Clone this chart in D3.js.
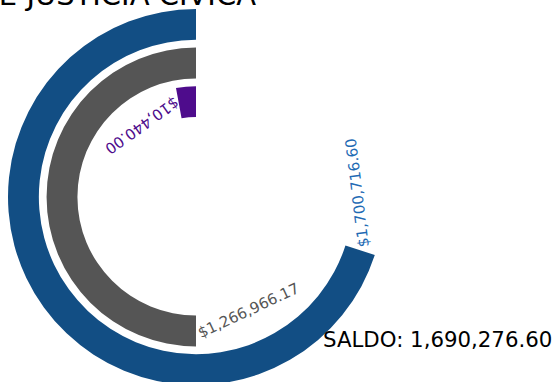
<!DOCTYPE html>
<html lang="es">
<head>
<meta charset="utf-8">
<script src="https://cdn.jsdelivr.net/npm/d3@7"></script>
<style>
  html, body { margin: 0; padding: 0; background: #fff; }
  svg { display: block; }
  text { font-family: "DejaVu Sans", sans-serif; }
</style>
</head>
<body>
<svg id="chart" width="555" height="382"></svg>
<script>
// Datos del tablero
const titulo = "JUZGADO DE JUSTICIA CÍVICA";
const conceptos = ["Ingresos", "Recaudado", "Egresos"];
const montos = [1700716.60, 1266966.17, 10440.00];
const ingresos = montos[0];
const egresos = montos[2];

// Estilos
const colores = ["#124e84", "#555555", "#4e0c8c"];
const coloresTexto = ["#1f6bb4", "#555555", "#4e0c8c"];

const W = 555, H = 382;
const cx = 196, cy = 197;
const svg = d3.select("#chart");

const fmt = d3.format(",.2f");

// Escala angular (grados, sentido antihorario desde las 12)
const ordenados = montos.slice().sort(d3.ascending);
const angulo = d3.scaleLinear()
  .domain([0, ...ordenados])
  .range([0, 10.4, 180, 252]);

// Escala radial: un anillo por concepto, el primero por fuera
const radio = d3.scaleBand()
  .domain(conceptos.slice().reverse())
  .range([80, 188])
  .paddingInner(0.2)
  .paddingOuter(0);

const arco = d3.arc();
const rad = Math.PI / 180;

const g = svg.append("g").attr("transform", `translate(${cx},${cy})`);

const datos = conceptos.map((c, i) => ({
  concepto: c,
  monto: montos[i],
  color: colores[i],
  colorTexto: coloresTexto[i]
}));

g.selectAll("path.anillo")
  .data(datos)
  .join("path")
  .attr("class", "anillo")
  .attr("fill", d => d.color)
  .attr("d", d => arco({
    innerRadius: radio(d.concepto),
    outerRadius: radio(d.concepto) + radio.bandwidth(),
    startAngle: 0,
    endAngle: -angulo(d.monto) * rad
  }));

// Etiquetas al final de cada anillo
g.selectAll("text.valor")
  .data(datos)
  .join("text")
  .attr("class", "valor")
  .attr("fill", d => d.colorTexto)
  .attr("font-size", 15)
  .attr("transform", d => {
    const th = angulo(d.monto);
    const a = -(th + 2) * rad;
    const r = radio(d.concepto) + radio.bandwidth() - 8;
    const x = r * Math.sin(a), y = -r * Math.cos(a);
    return `translate(${x},${y}) rotate(${155 - th})`;
  })
  .text(d => "$" + fmt(d.monto));

// Título
svg.append("text")
  .attr("x", 256)
  .attr("y", 5)
  .attr("text-anchor", "end")
  .attr("font-size", 29)
  .attr("fill", "#000")
  .text(titulo);

// Saldo
svg.append("text")
  .attr("x", 323)
  .attr("y", 347)
  .attr("font-size", 21.3)
  .attr("fill", "#000")
  .text("SALDO: " + fmt(ingresos - egresos));
</script>
</body>
</html>
